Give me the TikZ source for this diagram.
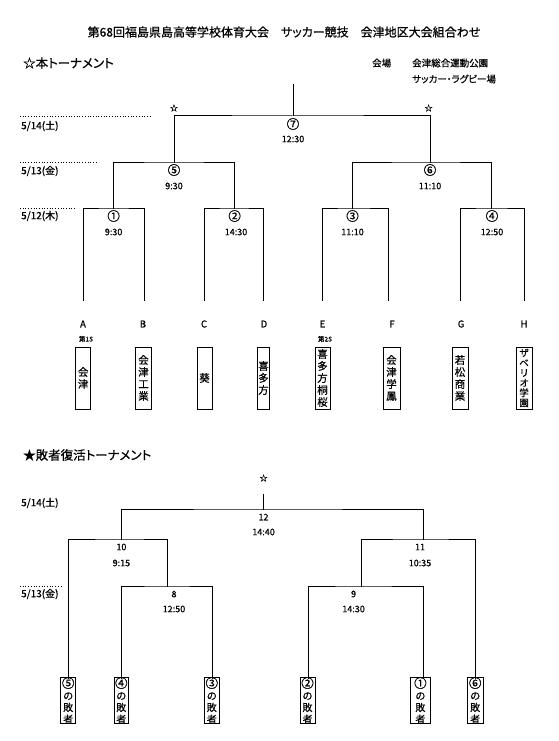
\documentclass[tikz,border=0pt]{standalone}
\usepackage{fontspec}
\setmainfont{Noto Sans CJK JP}[RawFeature=+palt, FakeBold=0.6]
\newcommand{\cbig}[1]{{\fontsize{12.5}{11.7}\selectfont #1}}
\begin{document}
\begin{tikzpicture}[x=1pt,y=-1pt,
  br/.style={line width=1pt, line cap=rect},
  dl/.style={dotted, line width=0.7pt},
  ttl/.style={font=\fontsize{12}{14}\selectfont, inner sep=0pt},
  head/.style={font=\fontsize{12.5}{14}\selectfont, inner sep=0pt, anchor=west},
  venue/.style={font=\fontsize{9.5}{11}\selectfont, inner sep=0pt, anchor=west},
  dt/.style={font=\fontsize{10}{11}\selectfont, inner sep=0pt, anchor=west},
  cn/.style={font=\fontsize{12.5}{13}\selectfont, inner sep=0pt},
  tm/.style={font=\fontsize{9}{10}\selectfont, inner sep=0pt},
  lt/.style={font=\fontsize{9.5}{10}\selectfont, inner sep=0pt},
  sd/.style={font=\fontsize{6.5}{7}\selectfont, inner sep=0pt},
  st/.style={font=\fontsize{8}{9}\selectfont, inner sep=0pt},
  tbox/.style={draw, line width=0.8pt, minimum height=62pt, inner sep=0pt, align=center, font=\fontsize{10.5}{12}\selectfont},
  lbox/.style={draw, line width=0.8pt, minimum height=45pt, inner sep=0pt, align=center, font=\fontsize{10}{11.7}\selectfont}
]
\useasboundingbox[fill=white] (0,0) rectangle (558,741);

% ---------- headings ----------
\node[ttl] (title) at (284,32) {第68回福島県島高等学校体育大会　サッカー競技　会津地区大会組合わせ};
\node[head] (h1) at (23,63) {☆本トーナメント};
\node[venue] (v0) at (372,63) {会場};
\node[venue] (v1) at (412,63) {会津総合運動公園};
\node[venue] (v2) at (412,79) {サッカー・ラグビー場};

% ---------- dates (main) ----------
\node[dt] (d14) at (21,126) {5/14(土)};
\node[dt] (d13) at (21,171) {5/13(金)};
\node[dt] (d12) at (21,216) {5/12(木)};
\draw[dl] (20,116) -- (152,116);
\draw[dl] (20,162) -- (98,162);
\draw[dl] (20,208) -- (75,208);

\node[st] (s1) at (174,108) {☆};
\node[st] (s2) at (428.6,108) {☆};

% ---------- main bracket ----------
\coordinate (top7) at (293,85);
\coordinate (m7) at (293,116);
\coordinate (m5) at (174,162);
\coordinate (m6) at (430,162);
\coordinate (m1) at (113.6,208);
\coordinate (m2) at (234.6,208);
\coordinate (m3) at (352.5,208);
\coordinate (m4) at (491,208);
\coordinate (eA) at (83,300);
\coordinate (eB) at (144,300);
\coordinate (eC) at (204,300);
\coordinate (eD) at (263.6,300);
\coordinate (eE) at (322.5,300);
\coordinate (eF) at (388,300);
\coordinate (eG) at (460,300);
\coordinate (eH) at (524,300);

\draw[br] (top7) -- (m7);
\draw[br] (m5) |- (m7) -| (m6);
\draw[br] (m1) |- (m5) -| (m2);
\draw[br] (m3) |- (m6) -| (m4);
\draw[br] (eA) |- (m1) -| (eB);
\draw[br] (eC) |- (m2) -| (eD);
\draw[br] (eE) |- (m3) -| (eF);
\draw[br] (eG) |- (m4) -| (eH);

\node[cn] (c7) at (293,124) {⑦};   \node[tm] (t7) at (293,139) {12:30};
\node[cn] (c5) at (174,170) {⑤};   \node[tm] (t5) at (174,186) {9:30};
\node[cn] (c6) at (430,170) {⑥};   \node[tm] (t6) at (430,186) {11:10};
\node[cn] (c1) at (113.6,216) {①}; \node[tm] (t1) at (113.6,232) {9:30};
\node[cn] (c2) at (234.6,216) {②}; \node[tm] (t2) at (236,232) {14:30};
\node[cn] (c3) at (352.5,216) {③}; \node[tm] (t3) at (352.5,232) {11:10};
\node[cn] (c4) at (492,216) {④};   \node[tm] (t4) at (492,232) {12:50};

% ---------- teams ----------
\node[lt] (LA) at (83,324) {A};
\node[lt] (LB) at (143,324) {B};
\node[lt] (LC) at (204,324) {C};
\node[lt] (LD) at (264,324) {D};
\node[lt] (LE) at (322.5,324) {E};
\node[lt] (LF) at (392,324) {F};
\node[lt] (LG) at (461,324) {G};
\node[lt] (LH) at (524,324) {H};
\node[sd] (sd1) at (86,339) {第1S};
\node[sd] (sd2) at (325,339) {第2S};

\node[tbox, minimum width=15pt] (tA) at (83.2,378) {会\\津};
\node[tbox, minimum width=15.7pt] (tB) at (143.5,378) {会\\津\\工\\業};
\node[tbox, minimum width=15pt] (tC) at (204.5,378) {葵};
\node[tbox, minimum width=12.6pt] (tD) at (263.5,378) {喜\\多\\方};
\node[tbox, minimum width=15pt] (tE) at (322.5,378) {喜\\多\\方\\桐\\桜};
\node[tbox, minimum width=17pt] (tF) at (391.5,378) {会\\津\\学\\鳳};
\node[tbox, minimum width=16pt] (tG) at (460,378) {若\\松\\商\\業};
\node[tbox, minimum width=16pt, font=\fontsize{9.5}{10}\selectfont] (tH) at (524,378) {ザ\\ベ\\リ\\オ\\学\\園};

% ---------- consolation ----------
\node[head] (h2) at (23,455) {★敗者復活トーナメント};
\node[st] (s3) at (263.6,478) {☆};
\node[dt] (e14) at (21,503) {5/14(土)};
\node[dt] (e13) at (21,594) {5/13(金)};
\draw[dl] (20,586) -- (61,586);

\coordinate (top12) at (263.6,494);
\coordinate (n12) at (263.6,509);
\coordinate (n10) at (121,539);
\coordinate (n11) at (423,539);
\coordinate (n8) at (167,586);
\coordinate (n9) at (361,586);
\coordinate (e5) at (68,678);
\coordinate (e4) at (121,678);
\coordinate (e3) at (212.5,678);
\coordinate (e2) at (308,678);
\coordinate (e1) at (423,678);
\coordinate (e6) at (475,678);

\draw[br] (top12) -- (n12);
\draw[br] (n10) |- (n12) -| (n11);
\draw[br] (e5) |- (n10) -| (n8);
\draw[br] (n9) |- (n11) -| (e6);
\draw[br] (e4) |- (n8) -| (e3);
\draw[br] (e2) |- (n9) -| (e1);

\node[tm] (k12) at (263.6,517) {12};  \node[tm] (u12) at (263.6,532) {14:40};
\node[tm] (k10) at (121.4,547) {10};  \node[tm] (u10) at (121.4,563) {9:15};
\node[tm] (k11) at (420,547) {11};    \node[tm] (u11) at (420,563) {10:35};
\node[tm] (k8) at (174,594) {8};      \node[tm] (u8) at (174,609) {12:50};
\node[tm] (k9) at (353.6,594) {9};    \node[tm] (u9) at (353.6,609) {14:30};

\node[lbox, minimum width=15pt] (b5) at (68.2,700.5) {\cbig{⑤}\\の\\敗\\者};
\node[lbox, minimum width=14.6pt] (b4) at (121.3,700.5) {\cbig{④}\\の\\敗\\者};
\node[lbox, minimum width=15.6pt] (b3) at (211.8,700.5) {\cbig{③}\\の\\敗\\者};
\node[lbox, minimum width=15pt] (b2) at (307.5,700.5) {\cbig{②}\\の\\敗\\者};
\node[lbox, minimum width=19.3pt] (b1) at (420.4,700.5) {\cbig{①}\\の\\敗\\者};
\node[lbox, minimum width=15.5pt] (b6) at (475.2,700.5) {\cbig{⑥}\\の\\敗\\者};
\end{tikzpicture}
\end{document}
